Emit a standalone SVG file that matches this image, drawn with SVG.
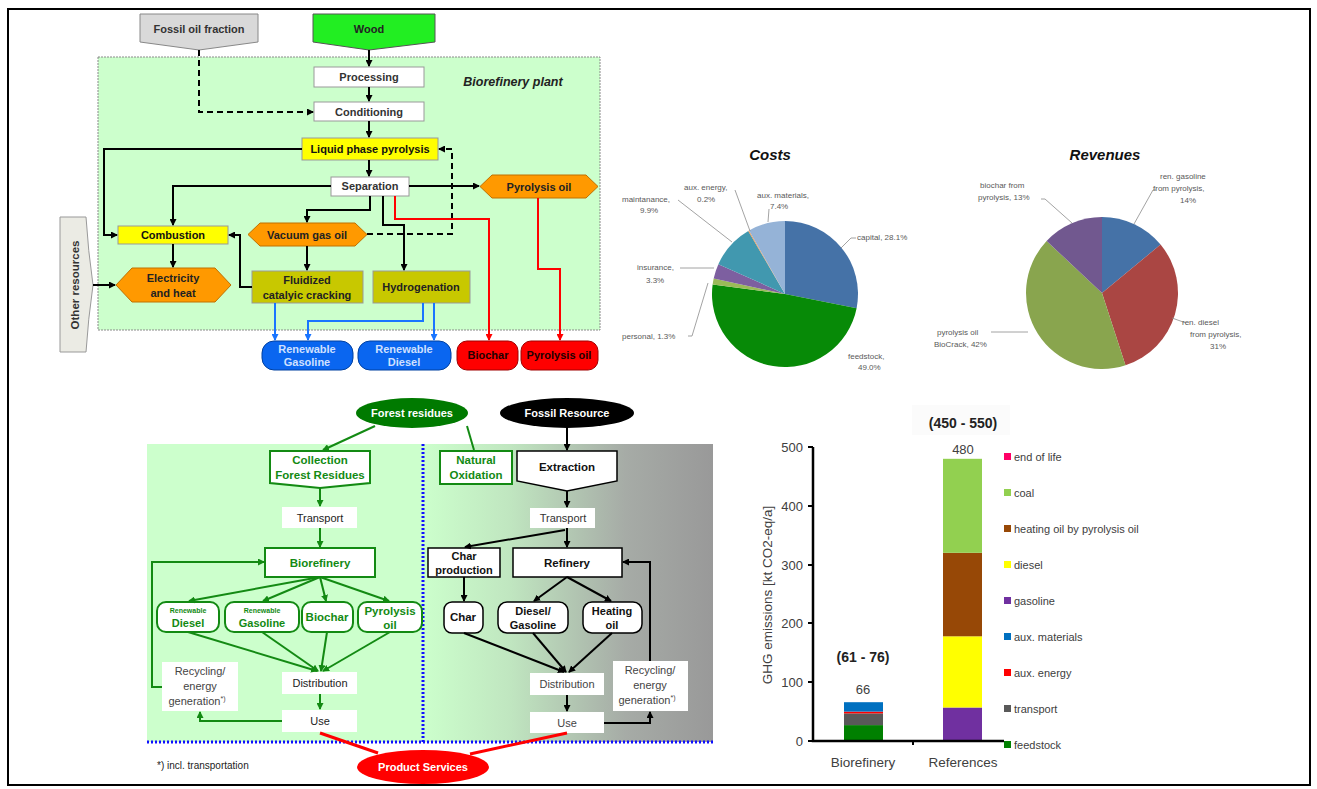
<svg xmlns="http://www.w3.org/2000/svg" width="1317" height="789" viewBox="0 0 1317 789">
<style>
text{font-family:"Liberation Sans",Arial,sans-serif}
.b{font-weight:bold}
.t11{font-size:11px}
.c{text-anchor:middle}
.ln{fill:none;stroke:#000;stroke-width:2}
.dash{fill:none;stroke:#000;stroke-width:2;stroke-dasharray:6,4}
.bl{fill:none;stroke:#1a75ff;stroke-width:2}
.rd{fill:none;stroke:#ff0000;stroke-width:2}
.gr{fill:none;stroke:#138a13;stroke-width:2}
.box{fill:#fff;stroke:#999;stroke-width:1}
.yel{fill:#ffff00;stroke:#999;stroke-width:1}
.olv{fill:#c8c800;stroke:#999;stroke-width:1}
.org{fill:#ff9900;stroke:#c07000;stroke-width:1}
.blu{fill:#0a66f0;stroke:#0040a0;stroke-width:1}
.red{fill:#ff0000;stroke:#a00000;stroke-width:1}
.gbox{fill:#fff;stroke:#138a13;stroke-width:2}
.kbox{fill:#fff;stroke:#000;stroke-width:1.5}
.pl{font-size:8px;fill:#595959}
.lead{fill:none;stroke:#8c8c8c;stroke-width:0.8}
.lg{font-size:11px;fill:#404040}
.ax{font-size:13px;fill:#404040}
</style>
<defs>
<marker id="ak" markerWidth="7" markerHeight="7" refX="6" refY="3.5" orient="auto" markerUnits="userSpaceOnUse"><path d="M0,0 L7,3.5 L0,7 z" fill="#000"/></marker>
<marker id="ag" markerWidth="7" markerHeight="7" refX="6" refY="3.5" orient="auto" markerUnits="userSpaceOnUse"><path d="M0,0 L7,3.5 L0,7 z" fill="#138a13"/></marker>
<marker id="ab" markerWidth="7" markerHeight="7" refX="6" refY="3.5" orient="auto" markerUnits="userSpaceOnUse"><path d="M0,0 L7,3.5 L0,7 z" fill="#1a75ff"/></marker>
<marker id="ar" markerWidth="7" markerHeight="7" refX="6" refY="3.5" orient="auto" markerUnits="userSpaceOnUse"><path d="M0,0 L7,3.5 L0,7 z" fill="#ff0000"/></marker>
<linearGradient id="fg" x1="423" y1="0" x2="713" y2="0" gradientUnits="userSpaceOnUse">
<stop offset="0" stop-color="#ccffcc"/><stop offset="0.3" stop-color="#c0e6c0"/><stop offset="0.7" stop-color="#a6aba6"/><stop offset="1" stop-color="#999"/>
</linearGradient>
</defs>
<rect x="0" y="0" width="1317" height="789" fill="#fff"/>
<rect x="8" y="9" width="1302" height="776" fill="none" stroke="#000" stroke-width="2"/>

<!-- ===== Top-left flow ===== -->
<g id="plant">
<rect x="98" y="57" width="502" height="273" fill="#ccffcc" stroke="#8a8a8a" stroke-width="1" stroke-dasharray="2,1"/>
<text x="513" y="86" class="b c" font-size="12.5" font-style="italic" fill="#222">Biorefinery plant</text>
</g>
<g id="fossil-oil-fraction"><path d="M140,14 H258 V42 L199,50 L140,42 Z" fill="#d9d9d9" stroke="#888"/><text x="199" y="33" class="b c t11" fill="#333">Fossil oil fraction</text></g>
<g id="wood"><path d="M313,14 H435 V42 L369,50 L313,42 Z" fill="#22ee22" stroke="#555"/><text x="369" y="33" class="b c t11" fill="#222">Wood</text></g>
<g id="processing"><rect x="314" y="67" width="110" height="20" class="box"/><text x="369" y="81" class="b c t11" fill="#333">Processing</text></g>
<g id="conditioning"><rect x="314" y="102" width="110" height="19" class="box"/><text x="369" y="116" class="b c t11" fill="#333">Conditioning</text></g>
<g id="lpp"><rect x="302" y="138" width="136" height="22" class="yel"/><text x="370" y="153" class="b c t11" fill="#111">Liquid phase pyrolysis</text></g>
<g id="separation"><rect x="331" y="177" width="78" height="19" class="box"/><text x="370" y="190" class="b c t11" fill="#333">Separation</text></g>
<g id="pyro-hex"><path d="M480,186.5 L492,175 H586 L598,186.5 L586,198 H492 Z" class="org"/><text x="539" y="190.5" class="b c t11" fill="#222">Pyrolysis oil</text></g>
<g id="combustion"><rect x="118" y="226" width="110" height="18" class="yel"/><text x="173" y="239" class="b c t11" fill="#111">Combustion</text></g>
<g id="vgo"><path d="M248,234.5 L260,223 H355 L367,234.5 L355,246 H260 Z" class="org"/><text x="307" y="238.5" class="b c t11" fill="#222">Vacuum gas oil</text></g>
<g id="elec"><path d="M116,285 L132,268 H215 L231,285 L215,302 H132 Z" class="org"/><text x="173" y="282" class="b c t11" fill="#222">Electricity</text><text x="173" y="297" class="b c t11" fill="#222">and heat</text></g>
<g id="fcc"><rect x="252" y="271" width="111" height="32" class="olv"/><text x="307" y="284" class="b c t11" fill="#222">Fluidized</text><text x="307" y="299" class="b c t11" fill="#222">catalyic cracking</text></g>
<g id="hydro"><rect x="373" y="271" width="97" height="32" class="olv"/><text x="421" y="291" class="b c t11" fill="#222">Hydrogenation</text></g>
<g id="other"><path d="M60,217 H86 Q88,250 93,285 Q88,320 86,352 H60 Z" fill="#ebebe4" stroke="#999"/><text transform="translate(79,285) rotate(-90)" class="b c" font-size="11.5" fill="#333">Other resources</text></g>
<g id="ren-gasoline"><rect x="262" y="341" width="91" height="29" rx="12" class="blu"/><text x="307" y="353" class="b c t11" fill="#cfe0ff">Renewable</text><text x="307" y="366" class="b c t11" fill="#cfe0ff">Gasoline</text></g>
<g id="ren-diesel"><rect x="358" y="341" width="93" height="29" rx="12" class="blu"/><text x="404" y="353" class="b c t11" fill="#cfe0ff">Renewable</text><text x="404" y="366" class="b c t11" fill="#cfe0ff">Diesel</text></g>
<g id="biochar-out"><rect x="457" y="341" width="61" height="29" rx="10" class="red"/><text x="488" y="359" class="b c t11" fill="#220000">Biochar</text></g>
<g id="pyro-out"><rect x="521" y="341" width="77" height="29" rx="10" class="red"/><text x="559" y="359" class="b c t11" fill="#220000">Pyrolysis oil</text></g>

<g id="connectors-top">
<path d="M369,50 V66" class="ln" marker-end="url(#ak)"/>
<path d="M369,87 V101" class="ln" marker-end="url(#ak)"/>
<path d="M369,121 V137" class="ln" marker-end="url(#ak)"/>
<path d="M369,160 V176" class="ln" marker-end="url(#ak)"/>
<path d="M199,50 V112 H313" class="dash" marker-end="url(#ak)"/>
<path d="M302,149 H104 V235 H117" class="ln" marker-end="url(#ak)"/>
<path d="M331,186 H173 V225" class="ln" marker-end="url(#ak)"/>
<path d="M409,186 H479" class="ln" marker-end="url(#ak)"/>
<path d="M370,196 V210 H307 V222" class="ln" marker-end="url(#ak)"/>
<path d="M383,196 V225 H404 V270" class="ln" marker-end="url(#ak)"/>
<path d="M367,234 H452 V149 H439" class="dash" marker-end="url(#ak)"/>
<path d="M307,246 V270" class="ln" marker-end="url(#ak)"/>
<path d="M252,287 H240 V235 H229" class="ln" marker-end="url(#ak)"/>
<path d="M173,244 V267" class="ln" marker-end="url(#ak)"/>
<path d="M93,285 H115" class="ln" marker-end="url(#ak)"/>
<path d="M395,196 V219 H489 V340" class="rd" marker-end="url(#ar)"/>
<path d="M538,198 V269 H560 V340" class="rd" marker-end="url(#ar)"/>
<path d="M275,303 V340" class="bl" marker-end="url(#ab)"/>
<path d="M423,303 V321 H308 V340" class="bl" marker-end="url(#ab)"/>
<path d="M434,303 V340" class="bl" marker-end="url(#ab)"/>
</g>

<!-- ===== Pie charts ===== -->
<g id="costs-pie">
<text x="770" y="160" class="b c" font-size="15" font-style="italic" fill="#111">Costs</text>
<path d="M785,294 L785,221 A73,73 0 0 1 856.62,308.13 Z" fill="#4572a7"/>
<path d="M785,294 L856.62,308.13 A73,73 0 0 1 712.63,284.39 Z" fill="#078a07"/>
<path d="M785,294 L712.63,284.39 A73,73 0 0 1 713.66,278.52 Z" fill="#9bbb59"/>
<path d="M785,294 L713.66,278.52 A73,73 0 0 1 718.37,264.17 Z" fill="#7d5fa0"/>
<path d="M785,294 L718.37,264.17 A73,73 0 0 1 748.24,230.94 Z" fill="#4198af"/>
<path d="M785,294 L748.24,230.94 A73,73 0 0 1 749.03,230.48 Z" fill="#f79646"/>
<path d="M785,294 L749.03,230.48 A73,73 0 0 1 785,221 Z" fill="#95b3d7"/>
<path d="M841,248 L851,238 H856" class="lead"/>
<text x="857" y="240" class="pl">capital, 28.1%</text>
<text x="848" y="359" class="pl">feedstock,</text>
<text x="858" y="370" class="pl">49.0%</text>
<path d="M688,336 H692 L708,283" class="lead"/>
<text x="622" y="339" class="pl">personal, 1.3%</text>
<path d="M680,268 H714" class="lead"/>
<text x="637" y="270" class="pl">insurance,</text>
<text x="646" y="283" class="pl">3.3%</text>
<path d="M678,200 L732,242" class="lead"/>
<text x="622" y="202" class="pl">maintanance,</text>
<text x="640" y="213" class="pl">9.9%</text>
<path d="M735,190 L750,231" class="lead"/>
<text x="684" y="190" class="pl">aux. energy,</text>
<text x="697" y="202" class="pl">0.2%</text>
<path d="M769,209 L768,222" class="lead"/>
<text x="757" y="198" class="pl">aux. materials,</text>
<text x="770" y="209" class="pl">7.4%</text>
</g>
<g id="revenues-pie">
<text x="1105" y="160" class="b c" font-size="15" font-style="italic" fill="#111">Revenues</text>
<path d="M1102,293 L1102,217 A76,76 0 0 1 1160.56,244.56 Z" fill="#4572a7"/>
<path d="M1102,293 L1160.56,244.56 A76,76 0 0 1 1125.48,365.28 Z" fill="#aa4643"/>
<path d="M1102,293 L1125.48,365.28 A76,76 0 0 1 1046.6,240.98 Z" fill="#89a54e"/>
<path d="M1102,293 L1046.6,240.98 A76,76 0 0 1 1102,217 Z" fill="#71588f"/>
<path d="M1134,224 L1153,190 H1156" class="lead"/>
<text x="1160" y="179" class="pl">ren. gasoline</text>
<text x="1153" y="191" class="pl">from pyrolysis,</text>
<text x="1180" y="203" class="pl">14%</text>
<path d="M1072,223 L1045,199 H1041" class="lead"/>
<text x="980" y="188" class="pl">biochar from</text>
<text x="978" y="200" class="pl">pyrolysis, 13%</text>
<path d="M991,332 H1028" class="lead"/>
<text x="937" y="335" class="pl">pyrolysis oil</text>
<text x="934" y="347" class="pl">BioCrack, 42%</text>
<path d="M1172,318 L1186,323" class="lead"/>
<text x="1182" y="325" class="pl">ren. diesel</text>
<text x="1190" y="337" class="pl">from pyrolysis,</text>
<text x="1210" y="349" class="pl">31%</text>
</g>

<!-- ===== Bottom-left LCA flow ===== -->
<g id="lca-bg">
<rect x="147" y="444" width="276" height="298" fill="#ccffcc"/>
<rect x="423" y="444" width="290" height="298" fill="url(#fg)"/>
<path d="M423,444 V742 M147,742 H713" fill="none" stroke="#1010ff" stroke-width="3" stroke-dasharray="2,2"/>
</g>
<g id="forest-residues"><ellipse cx="412" cy="413" rx="56" ry="15" fill="#007a00"/><text x="412" y="417" class="b c t11" fill="#fff">Forest residues</text></g>
<g id="fossil-resource"><ellipse cx="567" cy="413" rx="67" ry="15" fill="#000"/><text x="567" y="417" class="b c t11" fill="#fff">Fossil Resource</text></g>
<g id="collection"><path d="M270,451 H370 V483 L320,488 L270,483 Z" class="gbox"/><text x="320" y="464" class="b c" font-size="11.5" fill="#138a13">Collection</text><text x="320" y="479" class="b c" font-size="11.5" fill="#138a13">Forest Residues</text></g>
<g id="natural-oxidation"><rect x="440" y="451" width="72" height="33" class="gbox"/><text x="476" y="464" class="b c" font-size="11.5" fill="#138a13">Natural</text><text x="476" y="479" class="b c" font-size="11.5" fill="#138a13">Oxidation</text></g>
<g id="extraction"><path d="M517,451 H617 V481 L567,491 L517,481 Z" class="kbox"/><text x="567" y="471" class="b c" font-size="11.5" fill="#111">Extraction</text></g>
<g id="transport-l"><rect x="282" y="507" width="75" height="21" fill="#fff"/><text x="320" y="522" class="c t11" fill="#222">Transport</text></g>
<g id="transport-r"><rect x="530" y="508" width="65" height="20" fill="#fff"/><text x="563" y="522" class="c t11" fill="#333">Transport</text></g>
<g id="biorefinery"><rect x="265" y="548" width="110" height="29" class="gbox"/><text x="320" y="567" class="b c" font-size="11.5" fill="#138a13">Biorefinery</text></g>
<g id="char-production"><rect x="428" y="548" width="72" height="29" class="kbox"/><text x="464" y="560" class="b c t11" fill="#111">Char</text><text x="464" y="574" class="b c t11" fill="#111">production</text></g>
<g id="refinery"><rect x="513" y="548" width="109" height="29" class="kbox"/><text x="567" y="567" class="b c" font-size="11.5" fill="#111">Refinery</text></g>
<g id="renew-diesel"><rect x="157" y="602" width="62" height="30" rx="9" class="gbox"/><text x="188" y="613" class="b c" font-size="7" fill="#138a13">Renewable</text><text x="188" y="627" class="b c" font-size="11" fill="#138a13">Diesel</text></g>
<g id="renew-gasoline"><rect x="225" y="602" width="74" height="30" rx="9" class="gbox"/><text x="262" y="613" class="b c" font-size="7" fill="#138a13">Renewable</text><text x="262" y="627" class="b c" font-size="11" fill="#138a13">Gasoline</text></g>
<g id="biochar"><rect x="302" y="602" width="51" height="30" rx="9" class="gbox"/><text x="327" y="621" class="b c" font-size="11.5" fill="#138a13">Biochar</text></g>
<g id="pyrolysis-oil"><rect x="358" y="602" width="64" height="30" rx="9" class="gbox"/><text x="390" y="615" class="b c" font-size="11.5" fill="#138a13">Pyrolysis</text><text x="390" y="629" class="b c" font-size="11.5" fill="#138a13">oil</text></g>
<g id="char"><rect x="444" y="602" width="39" height="31" rx="8" class="kbox"/><text x="463" y="621" class="b c" font-size="11.5" fill="#111">Char</text></g>
<g id="diesel-gasoline"><rect x="498" y="602" width="70" height="31" rx="9" class="kbox"/><text x="533" y="615" class="b c t11" fill="#111">Diesel/</text><text x="533" y="629" class="b c t11" fill="#111">Gasoline</text></g>
<g id="heating-oil"><rect x="583" y="602" width="59" height="31" rx="9" class="kbox"/><text x="612" y="615" class="b c t11" fill="#111">Heating</text><text x="612" y="629" class="b c t11" fill="#111">oil</text></g>
<g id="distribution-l"><rect x="282" y="672" width="75" height="22" fill="#fff"/><text x="320" y="687" class="c t11" fill="#222">Distribution</text></g>
<g id="use-l"><rect x="282" y="710" width="75" height="22" fill="#fff"/><text x="320" y="725" class="c t11" fill="#222">Use</text></g>
<g id="recycling-l"><rect x="162" y="662" width="76" height="49" fill="#fff"/><text x="200" y="675" class="c t11" fill="#444">Recycling/</text><text x="200" y="690" class="c t11" fill="#444">energy</text><text x="197" y="705" class="c t11" fill="#444">generation<tspan font-size="7" dy="-4">*)</tspan></text></g>
<g id="distribution-r"><rect x="530" y="673" width="74" height="22" fill="#fff"/><text x="567" y="688" class="c t11" fill="#444">Distribution</text></g>
<g id="use-r"><rect x="530" y="712" width="74" height="21" fill="#fff"/><text x="567" y="727" class="c t11" fill="#444">Use</text></g>
<g id="recycling-r"><rect x="613" y="661" width="75" height="50" fill="#fff"/><text x="650" y="674" class="c t11" fill="#444">Recycling/</text><text x="650" y="689" class="c t11" fill="#444">energy</text><text x="647" y="704" class="c t11" fill="#444">generation<tspan font-size="7" dy="-4">*)</tspan></text></g>
<g id="product-services"><ellipse cx="423" cy="767" rx="66" ry="17" fill="#ff0000"/><text x="423" y="771" class="b c t11" fill="#fff">Product Services</text></g>
<g id="footnote"><text x="157" y="769" font-size="10" fill="#222">*) incl. transportation</text></g>

<g id="connectors-bottom">
<path d="M375,426 L323,450" class="gr" marker-end="url(#ag)"/>
<path d="M467,426 L474,450" class="gr"/>
<path d="M567,428 V450" class="ln" marker-end="url(#ak)"/>
<path d="M320,488 V506" class="gr" marker-end="url(#ag)"/>
<path d="M320,528 V547" class="gr" marker-end="url(#ag)"/>
<path d="M567,491 V507" class="ln" marker-end="url(#ak)"/>
<path d="M567,528 V547" class="ln" marker-end="url(#ak)"/>
<path d="M565,530 L465,547" class="ln" marker-end="url(#ak)"/>
<path d="M320,577 L189,601" class="gr" marker-end="url(#ag)"/>
<path d="M320,577 L263,601" class="gr" marker-end="url(#ag)"/>
<path d="M320,577 L326,601" class="gr" marker-end="url(#ag)"/>
<path d="M320,577 L389,601" class="gr" marker-end="url(#ag)"/>
<path d="M188,632 L317,671" class="gr" marker-end="url(#ag)"/>
<path d="M262,632 L318,671" class="gr" marker-end="url(#ag)"/>
<path d="M327,632 L321,671" class="gr" marker-end="url(#ag)"/>
<path d="M390,632 L323,671" class="gr" marker-end="url(#ag)"/>
<path d="M320,694 V709" class="gr" marker-end="url(#ag)"/>
<path d="M282,721 H200 V712" class="gr" marker-end="url(#ag)"/>
<path d="M162,687 H152 V562 H264" class="gr" marker-end="url(#ag)"/>
<path d="M464,577 V601" class="ln" marker-end="url(#ak)"/>
<path d="M567,577 L534,601" class="ln" marker-end="url(#ak)"/>
<path d="M567,577 L611,601" class="ln" marker-end="url(#ak)"/>
<path d="M464,633 L564,672" class="ln" marker-end="url(#ak)"/>
<path d="M533,633 L566,672" class="ln" marker-end="url(#ak)"/>
<path d="M612,633 L569,672" class="ln" marker-end="url(#ak)"/>
<path d="M567,695 V711" class="ln" marker-end="url(#ak)"/>
<path d="M604,723 H650 V712" class="ln" marker-end="url(#ak)"/>
<path d="M650,661 V562 H623" class="ln" marker-end="url(#ak)"/>
<path d="M320,733 L378,753" fill="none" stroke="#ff0000" stroke-width="3"/>
<path d="M567,733 L470,754" fill="none" stroke="#ff0000" stroke-width="3"/>
</g>

<!-- ===== GHG bar chart ===== -->
<g id="ghg-chart">
<rect x="912" y="405" width="98" height="30" fill="#fbfbfb"/>
<text x="963" y="428" class="b c" font-size="14" fill="#222">(450 - 550)</text>
<text x="863" y="662" class="b c" font-size="14" fill="#222">(61 - 76)</text>
<rect x="844" y="725.1" width="39" height="15.9" fill="#008000"/>
<rect x="844" y="713.4" width="39" height="11.7" fill="#595959"/>
<rect x="844" y="711.6" width="39" height="1.8" fill="#ff0000"/>
<rect x="844" y="702.2" width="39" height="9.4" fill="#0070c0"/>
<rect x="943" y="707.5" width="39" height="33.5" fill="#7030a0"/>
<rect x="943" y="636.3" width="39" height="71.2" fill="#ffff00"/>
<rect x="943" y="552.8" width="39" height="83.5" fill="#974806"/>
<rect x="943" y="458.8" width="39" height="94" fill="#92d050"/>
<text x="863" y="694" class="c" font-size="13" fill="#404040">66</text>
<text x="963" y="454" class="c" font-size="13" fill="#404040">480</text>
<path d="M813,447 V741 H1004" fill="none" stroke="#000" stroke-width="2.5"/>
<path d="M808,447 H813 M808,506 H813 M808,565 H813 M808,623 H813 M808,682 H813 M808,741 H813 M913,741 V745" fill="none" stroke="#000" stroke-width="2"/>
<g class="ax" text-anchor="end">
<text x="803" y="452">500</text><text x="803" y="511">400</text><text x="803" y="570">300</text><text x="803" y="628">200</text><text x="803" y="687">100</text><text x="803" y="746">0</text>
</g>
<text transform="translate(772,595) rotate(-90)" class="c" font-size="13.5" fill="#404040">GHG emissions [kt CO2-eq/a]</text>
<text x="863" y="767" class="c" font-size="13.5" fill="#404040">Biorefinery</text>
<text x="963" y="767" class="c" font-size="13.5" fill="#404040">References</text>
</g>
<g id="ghg-legend">
<rect x="1004" y="453" width="7" height="7" fill="#ff0066"/><text x="1014" y="461" class="lg">end of life</text>
<rect x="1004" y="489" width="7" height="7" fill="#92d050"/><text x="1014" y="497" class="lg">coal</text>
<rect x="1004" y="525" width="7" height="7" fill="#974806"/><text x="1014" y="533" class="lg">heating oil by pyrolysis oil</text>
<rect x="1004" y="561" width="7" height="7" fill="#ffff00"/><text x="1014" y="569" class="lg">diesel</text>
<rect x="1004" y="597" width="7" height="7" fill="#7030a0"/><text x="1014" y="605" class="lg">gasoline</text>
<rect x="1004" y="633" width="7" height="7" fill="#0070c0"/><text x="1014" y="641" class="lg">aux. materials</text>
<rect x="1004" y="669" width="7" height="7" fill="#ff0000"/><text x="1014" y="677" class="lg">aux. energy</text>
<rect x="1004" y="705" width="7" height="7" fill="#595959"/><text x="1014" y="713" class="lg">transport</text>
<rect x="1004" y="741" width="7" height="7" fill="#008000"/><text x="1014" y="749" class="lg">feedstock</text>
</g>
</svg>
